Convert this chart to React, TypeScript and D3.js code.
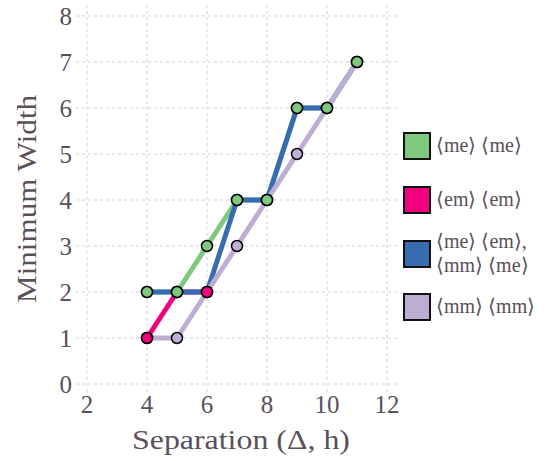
import React from "react";
import * as d3 from "d3";

const xTicks = [2, 4, 6, 8, 10, 12];
const yTicks = [0, 1, 2, 3, 4, 5, 6, 7, 8];

const meMeX = [4, 5, 6, 7, 8, 9, 10, 11];
const meMeY = [2, 2, 3, 4, 4, 6, 6, 7];
const emEmX = [4, 5, 6];
const emEmY = [1, 2, 2];
const mixedX = [4, 5, 6, 7, 8, 9, 10, 11];
const mixedY = [2, 2, 2, 4, 4, 6, 6, 7];
const mmMmX = [4, 5, 6, 7, 8, 9, 10, 11];
const mmMmY = [1, 1, 2, 3, 4, 5, 6, 7];

const seriesNames = ["me-me", "em-em", "mixed", "mm-mm"];
const seriesColors = ["#7fc97f", "#f0027f", "#386cb0", "#beaed4"];
const legendLabels: string[][] = [
  ["\u27E8me\u27E9 \u27E8me\u27E9"],
  ["\u27E8em\u27E9 \u27E8em\u27E9"],
  ["\u27E8me\u27E9 \u27E8em\u27E9,", "\u27E8mm\u27E9 \u27E8me\u27E9"],
  ["\u27E8mm\u27E9 \u27E8mm\u27E9"],
];

const TEXT = "#5a505a";
const FONT = "Liberation Serif, Times New Roman, Times, serif";

export default function App() {
  const W = 552, H = 461;
  const x = d3.scaleLinear().domain([2 - 11 / 30, 12 + 10 / 30]).range([76, 397]);
  const y = d3.scaleLinear().domain([-8 / 46, 8 + 11 / 46]).range([392, 5]);

  const series = [
    { xs: meMeX, ys: meMeY },
    { xs: emEmX, ys: emEmY },
    { xs: mixedX, ys: mixedY },
    { xs: mmMmX, ys: mmMmY },
  ].map((s, i) => ({
    name: seriesNames[i],
    color: seriesColors[i],
    pts: s.xs.map((v, j) => [v, s.ys[j]] as [number, number]),
  }));

  const line = d3
    .line<[number, number]>()
    .x((d) => x(d[0]))
    .y((d) => y(d[1]));

  const [x0, x1] = x.range();
  const [y0, y1] = y.range();
  const legendCenters = [146, 200, 254, 307];

  return (
    <svg width={W} height={H} style={{ position: "absolute", left: 0, top: 0 }}>
      <g stroke="#cfcfe0" strokeWidth={1} strokeDasharray="3,3">
        {xTicks.map((t) => (
          <line key={"gx" + t} x1={x(t)} x2={x(t)} y1={y1} y2={y0} />
        ))}
        {yTicks.map((t) => (
          <line key={"gy" + t} x1={x0} x2={x1} y1={y(t)} y2={y(t)} />
        ))}
      </g>
      <g fill={TEXT} style={{ fontFamily: FONT }} fontSize={25}>
        {xTicks.map((t) => (
          <text key={"tx" + t} x={x(t)} y={413} textAnchor="middle">
            {t}
          </text>
        ))}
        {yTicks.map((t) => (
          <text key={"ty" + t} x={72} y={y(t) + 8.5} textAnchor="end">
            {t}
          </text>
        ))}
      </g>
      {series.map((s) => (
        <path
          key={"l" + s.name}
          d={line(s.pts) || ""}
          fill="none"
          stroke={s.color}
          strokeWidth={5}
          strokeLinejoin="round"
        />
      ))}
      {[...series].reverse().map((s) => (
        <g key={"m" + s.name}>
          {s.pts.map((p, j) => (
            <circle
              key={j}
              cx={x(p[0])}
              cy={y(p[1])}
              r={5.5}
              fill={s.color}
              stroke="#000"
              strokeWidth={1.5}
            />
          ))}
        </g>
      ))}
      <text
        x={241}
        y={449}
        textAnchor="middle"
        fill={TEXT}
        style={{ fontFamily: FONT }}
        fontSize={28}
        textLength={218}
        lengthAdjust="spacingAndGlyphs"
      >
        Separation (Δ, h)
      </text>
      <text
        transform={`translate(36,199) rotate(-90)`}
        textAnchor="middle"
        fill={TEXT}
        style={{ fontFamily: FONT }}
        fontSize={28}
        textLength={208}
        lengthAdjust="spacingAndGlyphs"
      >
        Minimum Width
      </text>
      {series.map((s, i) => {
        const cy = legendCenters[i];
        const lines = legendLabels[i];
        return (
          <g key={"lg" + s.name}>
            <rect x={404} y={cy - 13} width={26} height={26} fill={s.color} stroke="#111" strokeWidth={2} />
            {lines.map((t, k) => (
              <text
                key={k}
                x={436}
                y={cy + 6 + (k - (lines.length - 1) / 2) * 24}
                fill={TEXT}
                style={{ fontFamily: FONT }}
                fontSize={20}
              >
                {t}
              </text>
            ))}
          </g>
        );
      })}
    </svg>
  );
}
